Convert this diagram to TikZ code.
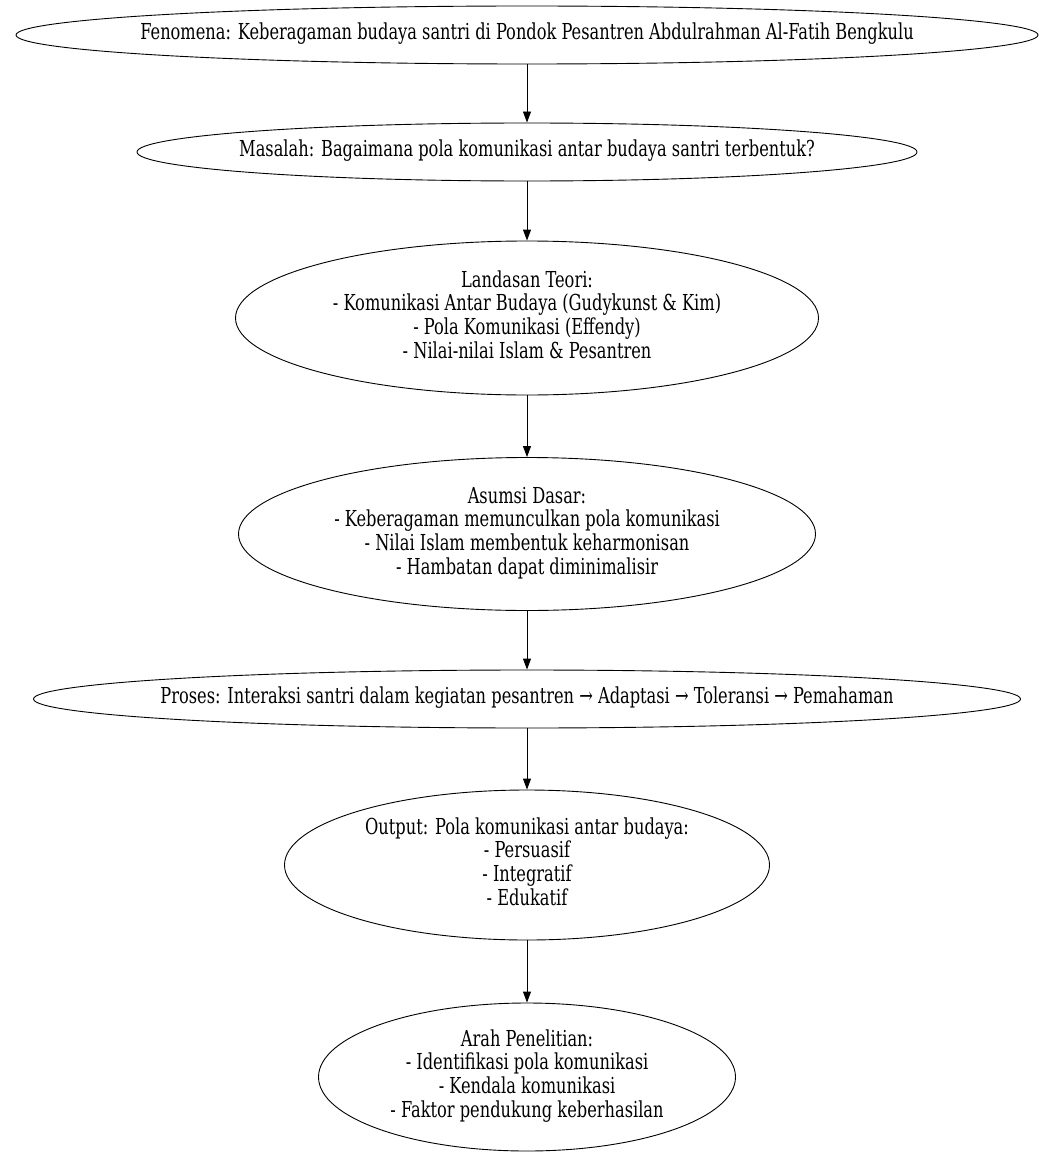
\documentclass[tikz,border=0pt]{standalone}
\usepackage{fontspec}
\setmainfont{DejaVu Serif Condensed}
\usetikzlibrary{%
  positioning
 ,arrows.meta
 ,shapes.geometric
}
\newcommand{\ntext}[1]{\makebox[0pt]{\scalebox{0.82}[1]{%
  \begin{tabular}{@{}c@{}}#1\end{tabular}}}}
\tikzstyle{el}=[ellipse,draw=black,line width=0.9pt,inner sep=0pt,
  font=\fontsize{22}{23.5}\selectfont]
\tikzstyle{ar}=[draw,line width=0.9pt,-{Triangle[length=11pt,width=8pt]}]

\begin{document}
\begin{tikzpicture}[x=1pt,y=-1pt]
\useasboundingbox (0,0) rectangle (1038,1153);
\node[el,minimum width=1022,minimum height=58](fen)at(527,35)
  {\ntext{Fenomena: Keberagaman budaya santri di Pondok Pesantren Abdulrahman Al-Fatih Bengkulu}};
\node[el,minimum width=780,minimum height=58](mas)at(527,152)
  {\ntext{Masalah: Bagaimana pola komunikasi antar budaya santri terbentuk?}};
\node[el,minimum width=583,minimum height=154](teori)at(527,318)
  {\ntext{Landasan Teori:\\- Komunikasi Antar Budaya (Gudykunst \& Kim)\\- Pola Komunikasi (Effendy)\\- Nilai-nilai Islam \& Pesantren}};
\node[el,minimum width=577,minimum height=153](asumsi)at(527,534)
  {\ntext{Asumsi Dasar:\\- Keberagaman memunculkan pola komunikasi\\- Nilai Islam membentuk keharmonisan\\- Hambatan dapat diminimalisir}};
\node[el,minimum width=987,minimum height=58](proses)at(527,699)
  {\ntext{Proses: Interaksi santri dalam kegiatan pesantren → Adaptasi → Toleransi → Pemahaman}};
\node[el,minimum width=485,minimum height=150](output)at(527,865)
  {\ntext{Output: Pola komunikasi antar budaya:\\- Persuasif\\- Integratif\\- Edukatif}};
\node[el,minimum width=417,minimum height=148](arah)at(527,1077)
  {\ntext{Arah Penelitian:\\- Identifikasi pola komunikasi\\- Kendala komunikasi\\- Faktor pendukung keberhasilan}};
\draw[ar](fen)--(mas);
\draw[ar](mas)--(teori);
\draw[ar](teori)--(asumsi);
\draw[ar](asumsi)--(proses);
\draw[ar](proses)--(output);
\draw[ar](output)--(arah);
\end{tikzpicture}
\end{document}
